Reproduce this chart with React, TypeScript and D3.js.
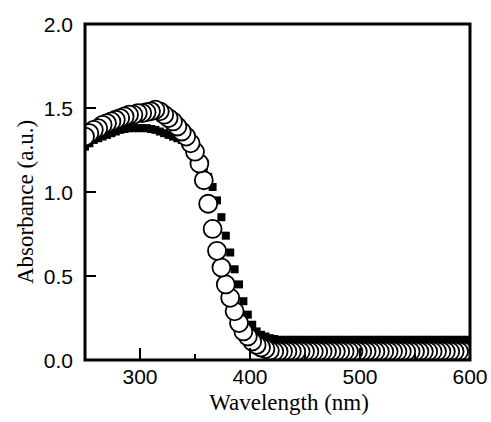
import React, { useEffect, useRef } from 'react';
import * as d3 from 'd3';

// wavelength (nm) of each measured point
const wavelengths = [
  250, 254, 258, 262, 266, 270, 274, 278, 282, 286, 290, 294, 298, 302, 306, 310,
  314, 318, 322, 326, 330, 334, 338, 342, 346, 350, 354, 358, 362, 366, 370, 374,
  378, 382, 386, 390, 394, 398, 402, 406, 410, 414, 418, 422, 426, 430, 434, 438,
  442, 446, 450, 454, 458, 462, 466, 470, 474, 478, 482, 486, 490, 494, 498, 502,
  506, 510, 514, 518, 522, 526, 530, 534, 538, 542, 546, 550, 554, 558, 562, 566,
  570, 574, 578, 582, 586, 590, 594, 598,
];

// filled squares
const squareValues = [
  1.27, 1.29, 1.31, 1.32, 1.33, 1.34, 1.35, 1.36, 1.37, 1.375, 1.38, 1.38, 1.38, 1.38, 1.38, 1.375,
  1.37, 1.36, 1.35, 1.34, 1.33, 1.32, 1.31, 1.29, 1.27, 1.24, 1.2, 1.15, 1.09, 1.03, 0.95, 0.85,
  0.74, 0.64, 0.54, 0.45, 0.35, 0.27, 0.21, 0.17, 0.15, 0.14, 0.13, 0.125, 0.12, 0.12, 0.12, 0.12,
  0.12, 0.12, 0.12, 0.12, 0.12, 0.12, 0.12, 0.12, 0.12, 0.12, 0.12, 0.12, 0.12, 0.12, 0.12, 0.12,
  0.12, 0.12, 0.12, 0.12, 0.12, 0.12, 0.12, 0.12, 0.12, 0.12, 0.12, 0.12, 0.12, 0.12, 0.12, 0.12,
  0.12, 0.12, 0.12, 0.12, 0.12, 0.12, 0.12, 0.12,
];

// open circles
const circleValues = [
  1.33, 1.35, 1.37, 1.38, 1.4, 1.41, 1.42, 1.43, 1.44, 1.45, 1.46, 1.46, 1.47, 1.47, 1.475, 1.48,
  1.49, 1.48, 1.46, 1.44, 1.42, 1.39, 1.36, 1.33, 1.29, 1.24, 1.17, 1.07, 0.93, 0.78, 0.65, 0.55,
  0.45, 0.37, 0.29, 0.22, 0.17, 0.14, 0.11, 0.09, 0.075, 0.065, 0.055, 0.05, 0.05, 0.05, 0.05, 0.05,
  0.05, 0.05, 0.05, 0.05, 0.05, 0.05, 0.05, 0.05, 0.05, 0.05, 0.05, 0.05, 0.05, 0.05, 0.05, 0.05,
  0.05, 0.05, 0.05, 0.05, 0.05, 0.05, 0.05, 0.05, 0.05, 0.05, 0.05, 0.05, 0.05, 0.05, 0.05, 0.05,
  0.05, 0.05, 0.05, 0.05, 0.05, 0.05, 0.05, 0.05,
];

const xMajorTicks = [300, 400, 500, 600];
const xMinorTicks = [350, 450, 550];
const yTicks = [0, 0.5, 1, 1.5, 2];

const App = () => {
  const chartRef = useRef(null);

  useEffect(() => {
    const svg = d3.select(chartRef.current);
    svg.selectAll('*').remove();
    const width = 491;
    const height = 422;
    const margin = { top: 24, right: 21, bottom: 62, left: 85 };

    const x = d3.scaleLinear().domain([250, 600]).range([margin.left, width - margin.right]);
    const y = d3.scaleLinear().domain([0, 2]).range([height - margin.bottom, margin.top]);

    const plot = svg.append('g');

    // clip marks to the frame
    svg.append('defs').append('clipPath').attr('id', 'plot-clip')
      .append('rect')
      .attr('x', x(250)).attr('y', y(2))
      .attr('width', x(600) - x(250)).attr('height', y(0) - y(2));

    const marks = plot.append('g').attr('clip-path', 'url(#plot-clip)');

    const sqSize = 8;
    const squares = wavelengths.map((w, i) => ({ w, v: squareValues[i] })).reverse();
    marks.append('g')
      .selectAll('rect')
      .data(squares)
      .join('rect')
      .attr('x', d => x(d.w) - sqSize / 2)
      .attr('y', d => y(d.v) - sqSize / 2)
      .attr('width', sqSize)
      .attr('height', sqSize)
      .attr('fill', '#000');

    const circles = wavelengths.map((w, i) => ({ w, v: circleValues[i] })).reverse();
    marks.append('g')
      .selectAll('circle')
      .data(circles)
      .join('circle')
      .attr('cx', d => x(d.w))
      .attr('cy', d => y(d.v))
      .attr('r', 9)
      .attr('fill', '#fff')
      .attr('stroke', '#000')
      .attr('stroke-width', 1.8);

    // ticks (inward)
    plot.append('g')
      .selectAll('line')
      .data(yTicks)
      .join('line')
      .attr('x1', x(250)).attr('x2', x(250) + 11)
      .attr('y1', d => y(d)).attr('y2', d => y(d))
      .attr('stroke', '#000').attr('stroke-width', 2);

    plot.append('g')
      .selectAll('line')
      .data(xMajorTicks)
      .join('line')
      .attr('x1', d => x(d)).attr('x2', d => x(d))
      .attr('y1', y(0)).attr('y2', y(0) - 12)
      .attr('stroke', '#000').attr('stroke-width', 2);

    plot.append('g')
      .selectAll('line')
      .data(xMinorTicks)
      .join('line')
      .attr('x1', d => x(d)).attr('x2', d => x(d))
      .attr('y1', y(0)).attr('y2', y(0) - 6)
      .attr('stroke', '#000').attr('stroke-width', 2);

    // frame
    plot.append('rect')
      .attr('x', x(250)).attr('y', y(2))
      .attr('width', x(600) - x(250)).attr('height', y(0) - y(2))
      .attr('fill', 'none')
      .attr('stroke', '#000')
      .attr('stroke-width', 3);

    // tick labels
    const sans = '"Liberation Sans", Arial, sans-serif';
    const serif = '"Liberation Serif", "Times New Roman", serif';

    svg.append('g')
      .selectAll('text')
      .data(yTicks)
      .join('text')
      .attr('x', 73)
      .attr('y', d => y(d))
      .attr('dy', '0.36em')
      .attr('text-anchor', 'end')
      .attr('font-family', sans)
      .attr('font-size', 21)
      .text(d => d3.format('.1f')(d));

    svg.append('g')
      .selectAll('text')
      .data(xMajorTicks)
      .join('text')
      .attr('x', d => x(d))
      .attr('y', 384)
      .attr('text-anchor', 'middle')
      .attr('font-family', sans)
      .attr('font-size', 21)
      .text(d => d);

    // axis titles
    svg.append('text')
      .attr('x', 289)
      .attr('y', 410)
      .attr('text-anchor', 'middle')
      .attr('font-family', serif)
      .attr('font-size', 23)
      .text('Wavelength (nm)');

    svg.append('text')
      .attr('transform', 'translate(33,202) rotate(-90)')
      .attr('text-anchor', 'middle')
      .attr('font-family', serif)
      .attr('font-size', 23)
      .text('Absorbance (a.u.)');
  }, []);

  return (
    <svg
      ref={chartRef}
      width={491}
      height={422}
      style={{ position: 'absolute', left: 0, top: 0, background: '#fff' }}
    />
  );
};

export default App;
